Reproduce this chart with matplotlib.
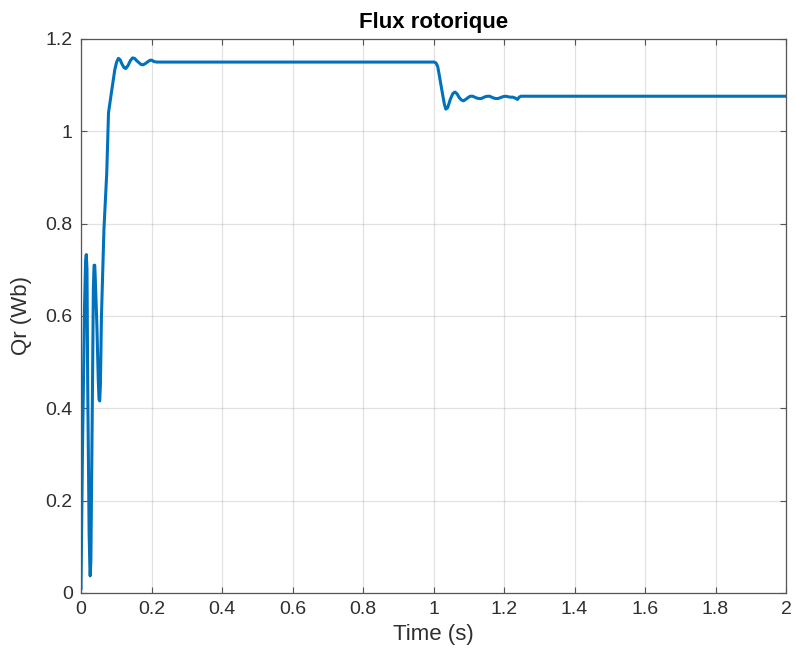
import numpy as np
import matplotlib
matplotlib.use('Agg')
import matplotlib.pyplot as plt

t = [0.0, 0.004, 0.010, 0.013, 0.015, 0.017, 0.019, 0.023, 0.025, 0.026,
     0.028, 0.032, 0.035, 0.037, 0.039, 0.041, 0.045, 0.049, 0.051, 0.053,
     0.055, 0.058, 0.065, 0.073, 0.078, 0.087, 0.096, 0.101, 0.106, 0.111,
     0.116, 0.122, 0.127, 0.133, 0.140, 0.146, 0.152, 0.158, 0.164, 0.170,
     0.176, 0.183, 0.190, 0.196, 0.201, 0.207, 0.215, 1.002, 1.007, 1.012,
     1.016, 1.026, 1.031, 1.035, 1.040, 1.048, 1.055, 1.061, 1.067, 1.073,
     1.079, 1.085, 1.091, 1.098, 1.104, 1.111, 1.117, 1.123, 1.129, 1.135,
     1.141, 1.147, 1.153, 1.159, 1.165, 1.171, 1.177, 1.183, 1.190, 1.197,
     1.204, 1.211, 1.218, 1.225, 1.232, 1.238, 1.243, 1.248, 2.0]
qr = [0.01, 0.30, 0.62, 0.72, 0.733, 0.70, 0.45, 0.13, 0.06, 0.037,
      0.07, 0.40, 0.66, 0.71, 0.71, 0.67, 0.58, 0.46, 0.42, 0.416,
      0.45, 0.60, 0.787, 0.91, 1.04, 1.088, 1.134, 1.150, 1.158, 1.155,
      1.146, 1.138, 1.136, 1.142, 1.153, 1.159, 1.158, 1.153, 1.149, 1.145,
      1.144, 1.147, 1.151, 1.154, 1.154, 1.151, 1.150, 1.150, 1.148, 1.140,
      1.123, 1.079, 1.058, 1.048, 1.051, 1.070, 1.082, 1.085, 1.081, 1.073,
      1.068, 1.066, 1.069, 1.073, 1.076, 1.076, 1.074, 1.072, 1.071, 1.071,
      1.073, 1.075, 1.076, 1.076, 1.074, 1.072, 1.071, 1.071, 1.073, 1.075,
      1.076, 1.075, 1.074, 1.074, 1.072, 1.069, 1.074, 1.076, 1.076]

xticks = np.arange(0, 2.01, 0.2)
yticks = np.arange(0, 1.21, 0.2)
txt = '#2f2f2f'

plt.rcParams['font.family'] = ['Liberation Sans', 'DejaVu Sans']

fig = plt.figure(figsize=(7.95, 6.63), dpi=100)
ax = fig.add_axes([0.1019, 0.1056, 0.8868, 0.8356])

ax.plot(t, qr, color='#0072BD', linewidth=2.2)

ax.set_xlim(0, 2)
ax.set_ylim(0, 1.2)
ax.set_xticks(xticks)
ax.set_yticks(yticks)
ax.set_xticklabels(['%g' % round(v, 1) for v in xticks])
ax.set_yticklabels(['%g' % round(v, 1) for v in yticks])
ax.grid(True, color='#262626', alpha=0.13, linewidth=0.9)
ax.tick_params(direction='in', length=4.5, width=0.8, top=True, right=True,
               labelsize=14, colors='#555555', labelcolor=txt, pad=6)
for s in ax.spines.values():
    s.set_color('#555555')
    s.set_linewidth(0.9)

ax.set_title('Flux rotorique', fontsize=16, fontweight='bold', color='black', pad=8)
ax.set_xlabel('Time (s)', fontsize=16, color=txt, labelpad=4)
ax.set_ylabel('Qr (Wb)', fontsize=16, color=txt, labelpad=10)

fig.savefig('out.png', dpi=100)
